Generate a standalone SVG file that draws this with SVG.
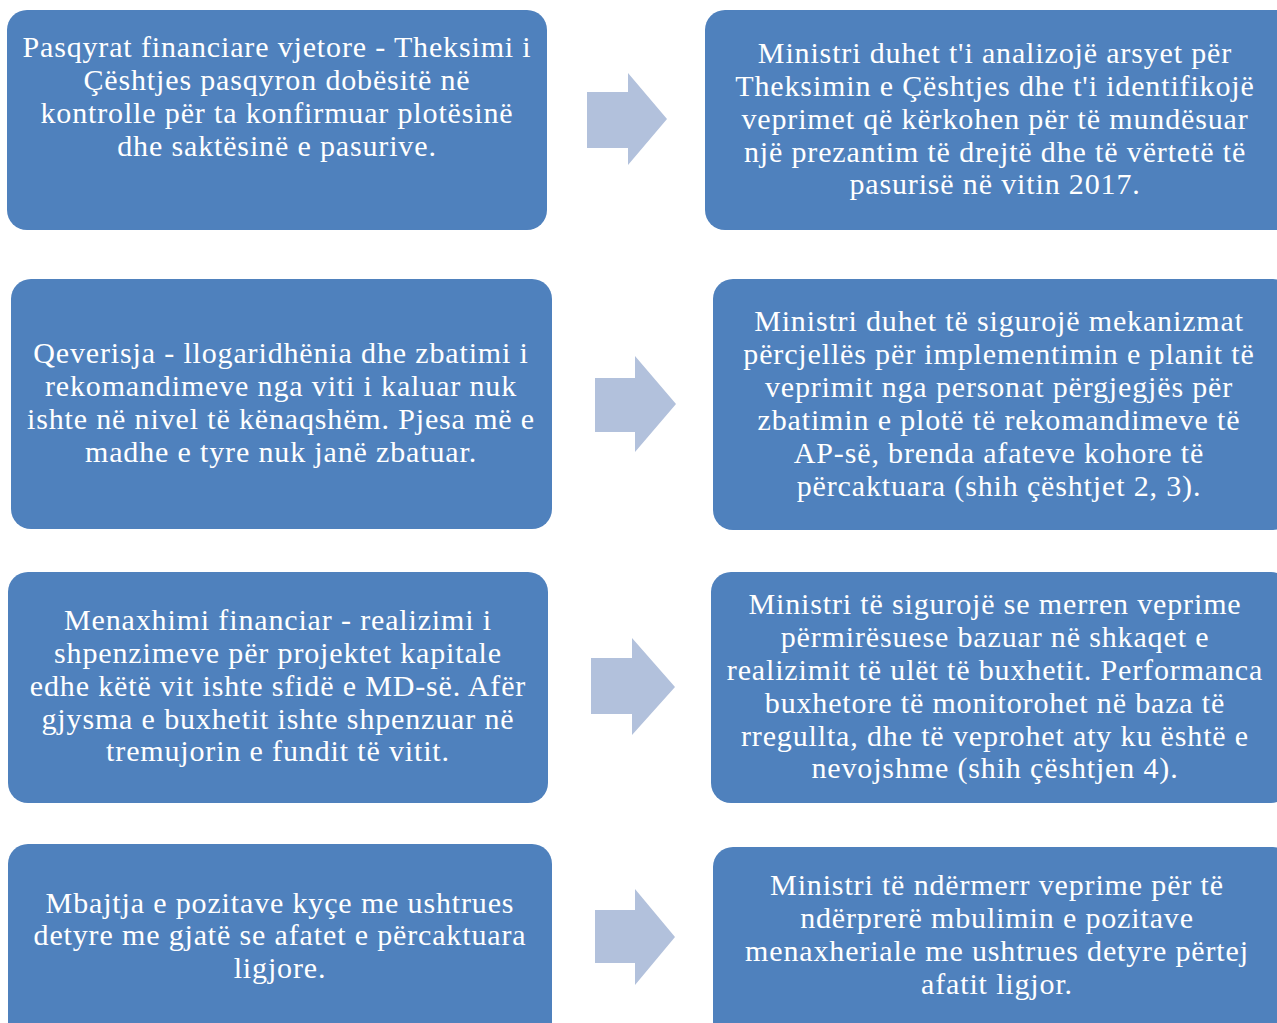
<svg xmlns="http://www.w3.org/2000/svg" width="1277" height="1023" viewBox="0 0 1277 1023">
<style>
.box{fill:#4F81BD;}
.arr{fill:#B2C1DC;}
text{font-family:"Liberation Serif","DejaVu Serif",serif;font-size:30px;letter-spacing:0.85px;fill:#FFFFFF;text-anchor:middle;}
</style>
<rect width="1277" height="1023" fill="#FFFFFF"/>
<g id="connectors">
<polygon class="arr" points="587,92 628,92 628,73 667,119 628,165 628,148 587,148"/>
<polygon class="arr" points="595,378 635,378 635,356 676,404 635,452 635,432 595,432"/>
<polygon class="arr" points="591,658 632,658 632,638 675,687 632,735 632,714 591,714"/>
<polygon class="arr" points="595,910 635,910 635,889 675,937 635,985 635,963 595,963"/>
</g>
<g id="n1">
<rect class="box" x="7" y="10" width="540" height="220" rx="20"/>
<text x="277" y="57"><tspan x="277">Pasqyrat financiare vjetore - Theksimi i</tspan><tspan x="277" dy="33">Çështjes pasqyron dobësitë në</tspan><tspan x="277" dy="33">kontrolle për ta konfirmuar plotësinë</tspan><tspan x="277" dy="33">dhe saktësinë e pasurive.</tspan></text>
</g>
<g id="n2">
<rect class="box" x="705" y="10" width="590" height="220" rx="20"/>
<text x="995" y="63"><tspan x="995">Ministri duhet t'i analizojë arsyet për</tspan><tspan x="995" dy="33">Theksimin e Çështjes dhe t'i identifikojë</tspan><tspan x="995" dy="33">veprimet që kërkohen për të mundësuar</tspan><tspan x="995" dy="33">një prezantim të drejtë dhe të vërtetë të</tspan><tspan x="995" dy="32">pasurisë në vitin 2017.</tspan></text>
</g>
<g id="n3">
<rect class="box" x="11" y="279" width="541" height="250" rx="20"/>
<text x="281" y="363"><tspan x="281">Qeverisja - llogaridhënia dhe zbatimi i</tspan><tspan x="281" dy="33">rekomandimeve nga viti i kaluar nuk</tspan><tspan x="281" dy="33">ishte në nivel të kënaqshëm. Pjesa më e</tspan><tspan x="281" dy="33">madhe e tyre nuk janë zbatuar.</tspan></text>
</g>
<g id="n4">
<rect class="box" x="713" y="279" width="580" height="251" rx="20"/>
<text x="999" y="331"><tspan x="999">Ministri duhet të sigurojë mekanizmat</tspan><tspan x="999" dy="33">përcjellës për implementimin e planit të</tspan><tspan x="999" dy="33">veprimit nga personat përgjegjës për</tspan><tspan x="999" dy="33">zbatimin e plotë të rekomandimeve të</tspan><tspan x="999" dy="33">AP-së, brenda afateve kohore të</tspan><tspan x="999" dy="33">përcaktuara (shih çështjet 2, 3).</tspan></text>
</g>
<g id="n5">
<rect class="box" x="8" y="572" width="540" height="231" rx="20"/>
<text x="278" y="630"><tspan x="278">Menaxhimi financiar - realizimi i</tspan><tspan x="278" dy="33">shpenzimeve për projektet kapitale</tspan><tspan x="278" dy="33">edhe këtë vit ishte sfidë e MD-së. Afër</tspan><tspan x="278" dy="33">gjysma e buxhetit ishte shpenzuar në</tspan><tspan x="278" dy="32">tremujorin e fundit të vitit.</tspan></text>
</g>
<g id="n6">
<rect class="box" x="711" y="572" width="580" height="231" rx="20"/>
<text x="995" y="614"><tspan x="995">Ministri të sigurojë se merren veprime</tspan><tspan x="995" dy="33">përmirësuese bazuar në shkaqet e</tspan><tspan x="995" dy="33">realizimit të ulët të buxhetit. Performanca</tspan><tspan x="995" dy="33">buxhetore të monitorohet në baza të</tspan><tspan x="995" dy="33">rregullta, dhe të veprohet aty ku është e</tspan><tspan x="995" dy="32">nevojshme (shih çështjen 4).</tspan></text>
</g>
<g id="n7">
<rect class="box" x="8" y="844" width="544" height="200" rx="20"/>
<text x="280" y="913"><tspan x="280">Mbajtja e pozitave kyçe me ushtrues</tspan><tspan x="280" dy="32">detyre me gjatë se afatet e përcaktuara</tspan><tspan x="280" dy="33">ligjore.</tspan></text>
</g>
<g id="n8">
<rect class="box" x="713" y="847" width="580" height="200" rx="20"/>
<text x="997" y="895"><tspan x="997">Ministri të ndërmerr veprime për të</tspan><tspan x="997" dy="33">ndërprerë mbulimin e pozitave</tspan><tspan x="997" dy="33">menaxheriale me ushtrues detyre përtej</tspan><tspan x="997" dy="33">afatit ligjor.</tspan></text>
</g>
</svg>
